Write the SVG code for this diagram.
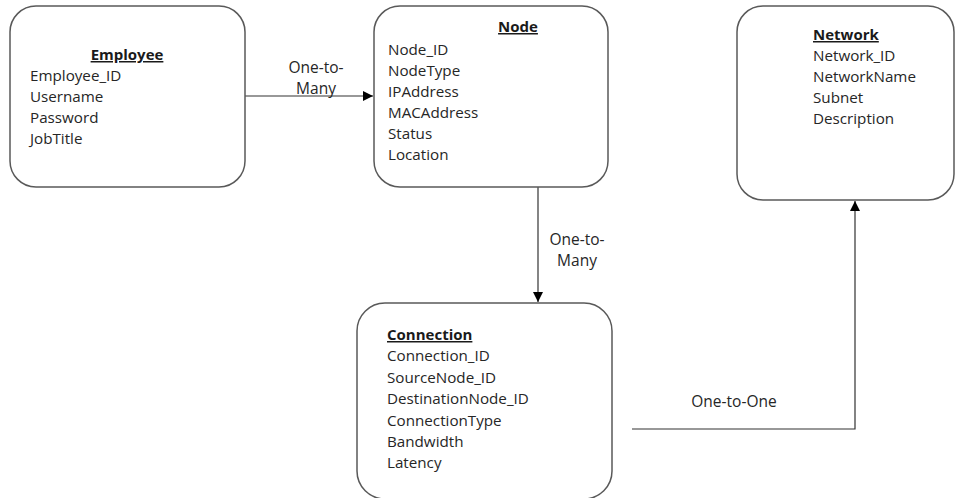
<svg xmlns="http://www.w3.org/2000/svg" width="958" height="498" viewBox="0 0 958 498">
  <style>
    .box { fill: #ffffff; stroke: #595959; stroke-width: 1.5; }
    .title { font-family: "Open Sans", "Noto Sans", sans-serif; font-size: 15px; font-weight: bold; fill: #1a1a1a; text-decoration: underline; }
    .attr { font-family: "Open Sans", "Noto Sans", sans-serif; font-size: 15.2px; fill: #262626; }
    .link { fill: none; stroke: #333333; stroke-width: 1.2; }
    .label { font-family: "Open Sans", "Noto Sans", sans-serif; font-size: 15.5px; fill: #262626; text-anchor: middle; }
  </style>
  <defs>
    <marker id="arrow" viewBox="0 0 10 10" refX="10" refY="5" markerWidth="10" markerHeight="10" markerUnits="userSpaceOnUse" orient="auto">
      <path d="M0,0 L10,5 L0,10 Z" fill="#000000"/>
    </marker>
  </defs>
  <rect width="958" height="498" fill="#ffffff"/>

  <g id="connectors">
    <path class="link" d="M245,96 H373" marker-end="url(#arrow)"/>
    <text class="label" x="316" y="73">One-to-</text>
    <text class="label" x="316" y="94">Many</text>

    <path class="link" d="M538,187 V302" marker-end="url(#arrow)"/>
    <text class="label" x="577" y="245">One-to-</text>
    <text class="label" x="577" y="266">Many</text>

    <path class="link" d="M632,429 H855 V201" marker-end="url(#arrow)"/>
    <text class="label" x="734" y="407">One-to-One</text>
  </g>

  <g id="employee">
    <rect class="box" x="10" y="6" width="235" height="181" rx="26" ry="26"/>
    <text class="title" x="127" y="60" text-anchor="middle">Employee</text>
    <text class="attr" x="30" y="81">Employee_ID</text>
    <text class="attr" x="30" y="102">Username</text>
    <text class="attr" x="30" y="123">Password</text>
    <text class="attr" x="30" y="144">JobTitle</text>
  </g>

  <g id="node">
    <rect class="box" x="374" y="6" width="234" height="181" rx="26" ry="26"/>
    <text class="title" x="518" y="32" text-anchor="middle">Node</text>
    <text class="attr" x="388" y="55">Node_ID</text>
    <text class="attr" x="388" y="76">NodeType</text>
    <text class="attr" x="388" y="97">IPAddress</text>
    <text class="attr" x="388" y="118">MACAddress</text>
    <text class="attr" x="388" y="139">Status</text>
    <text class="attr" x="388" y="160">Location</text>
  </g>

  <g id="network">
    <rect class="box" x="737" y="6" width="217" height="194" rx="26" ry="26"/>
    <text class="title" x="813" y="40">Network</text>
    <text class="attr" x="813" y="61">Network_ID</text>
    <text class="attr" x="813" y="82">NetworkName</text>
    <text class="attr" x="813" y="103">Subnet</text>
    <text class="attr" x="813" y="124">Description</text>
  </g>

  <g id="connection">
    <rect class="box" x="357" y="303" width="255" height="196" rx="28" ry="28"/>
    <text class="title" x="387" y="340">Connection</text>
    <text class="attr" x="387" y="361">Connection_ID</text>
    <text class="attr" x="387" y="383">SourceNode_ID</text>
    <text class="attr" x="387" y="404">DestinationNode_ID</text>
    <text class="attr" x="387" y="426">ConnectionType</text>
    <text class="attr" x="387" y="447">Bandwidth</text>
    <text class="attr" x="387" y="468">Latency</text>
  </g>
</svg>
